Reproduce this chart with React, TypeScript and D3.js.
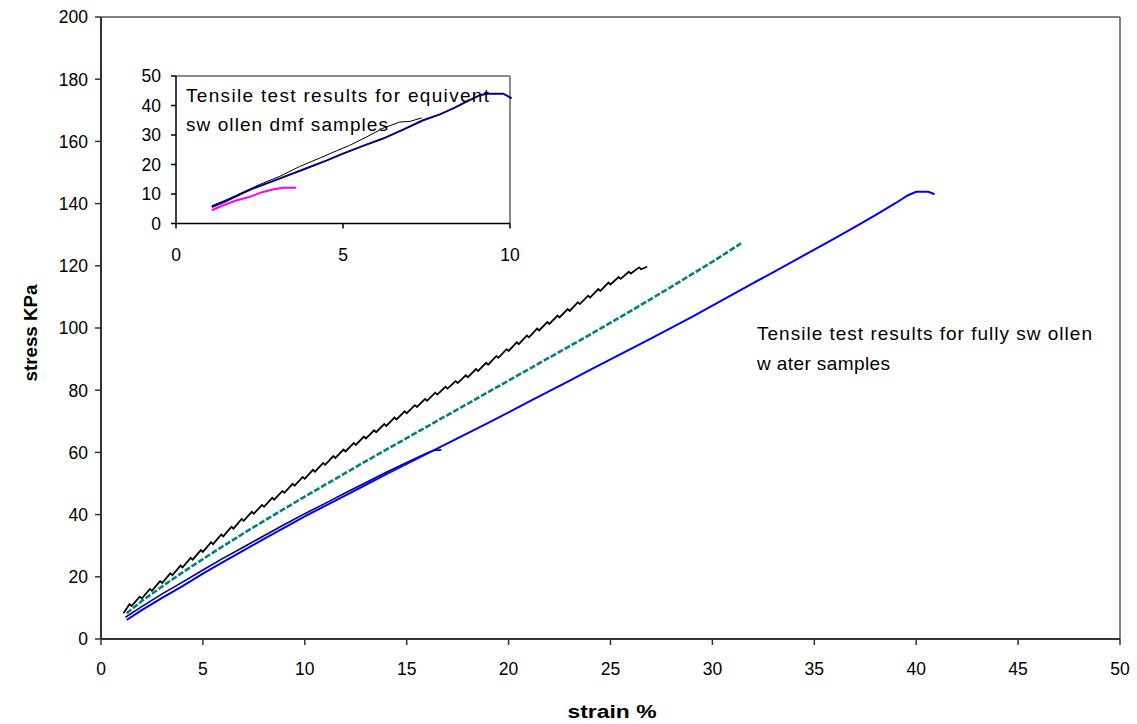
import React from 'react';
import * as d3 from 'd3';

// main chart: tensile tests, fully swollen water samples (strain %, stress KPa)
const blackMain: [number, number][] = [
  [1.1, 8.3], [1.4, 11.2], [1.5, 10.6], [1.9, 13.6], [2, 13], [2.4, 16.1], [2.5, 15.5], [2.9, 18.6], [3, 18],
  [3.4, 21.1], [3.5, 20.5], [3.9, 23.6], [4, 23], [4.4, 26.1], [4.5, 25.5], [4.9, 28.6], [5, 28], [5.4, 31.1],
  [5.5, 30.5], [5.9, 33.6], [6, 33], [6.4, 36.1], [6.5, 35.5], [6.9, 38.6], [7, 38], [7.4, 40.9], [7.5, 40.3],
  [7.9, 43.1], [8, 42.5], [8.4, 45.4], [8.5, 44.8], [8.9, 47.6], [9, 47], [9.4, 49.9], [9.5, 49.3], [9.9, 52.1],
  [10, 51.5], [10.4, 54.4], [10.5, 53.8], [10.9, 56.6], [11, 56], [11.4, 58.8], [11.5, 58.2], [11.9, 60.9],
  [12, 60.3], [12.4, 63], [12.5, 62.4], [12.9, 65.1], [13, 64.5], [13.4, 67.1], [13.5, 66.5], [13.9, 69.1],
  [14, 68.5], [14.4, 71.2], [14.5, 70.6], [14.9, 73.2], [15, 72.6], [15.4, 75.2], [15.5, 74.6], [15.9, 77.2],
  [16, 76.6], [16.4, 79.2], [16.5, 78.6], [16.9, 81.1], [17, 80.5], [17.4, 82.9], [17.5, 82.3], [17.9, 84.8],
  [18, 84.2], [18.4, 86.8], [18.5, 86.2], [18.9, 88.8], [19, 88.2], [19.4, 91], [19.5, 90.4], [19.9, 93.2],
  [20, 92.6], [20.4, 95.4], [20.5, 94.8], [20.9, 97.6], [21, 97], [21.4, 99.8], [21.5, 99.2], [21.9, 101.9],
  [22, 101.3], [22.4, 104], [22.5, 103.4], [22.9, 106.1], [23, 105.5], [23.4, 108.3], [23.5, 107.7],
  [23.9, 110.4], [24, 109.8], [24.4, 112.5], [24.5, 111.9], [24.9, 114.6], [25, 114], [25.4, 116.4], [25.5, 115.8],
  [25.9, 118.1], [26, 117.5], [26.4, 119.5], [26.5, 118.9], [26.8, 119.7],
];

const tealMain: [number, number][] = [
  [1.26, 8.3], [2, 12.2], [3, 16.9], [4, 21.4], [5, 25.7], [6, 29.9], [7, 34], [8, 38], [9, 41.9], [10, 45.8],
  [11, 49.6], [12, 53.4], [13, 57.2], [14, 60.9], [15, 64.6], [16, 68.3], [17, 72], [18, 75.7], [19, 79.4],
  [20, 83.1], [21, 86.8], [22, 90.5], [23, 94.2], [24, 97.9], [25, 101.7], [26, 105.5], [27, 109.4],
  [28, 113.3], [29, 117.3], [30, 121.3], [31, 125.5], [31.4, 127.2],
];

const blueMain: [number, number][] = [
  [1.26, 6.1], [2, 9.3], [3, 13.2], [4, 17], [5, 21], [6, 24.8], [7, 28.5], [8, 32.2], [9, 35.8], [10, 39.4],
  [11, 42.8], [12, 46.2], [13, 49.6], [14, 53], [15, 56.3], [16, 59.6], [17, 62.9], [18, 66.2], [19, 69.5],
  [20, 72.9], [21, 76.3], [22, 79.7], [23, 83.1], [24, 86.5], [25, 89.9], [26, 93.3], [27, 96.7], [28, 100.1],
  [29, 103.6], [30, 107.2], [31, 110.8], [32, 114.4], [33, 118], [34, 121.6], [35, 125.2], [36, 128.8],
  [37, 132.5], [38, 136.3], [39, 140.2], [39.6, 142.7], [40, 143.8], [40.6, 143.8], [40.9, 143],
];

const navyMain: [number, number][] = [
  [1.2, 7], [2, 10.4], [3, 14.5], [4, 18.3], [5, 22.2], [6, 26], [7, 29.6], [8, 33.2], [9, 36.8], [10, 40.3],
  [11, 43.6], [12, 47], [13, 50.3], [14, 53.6], [15, 56.8], [16, 59.8], [16.3, 60.6], [16.7, 60.8],
];

// inset: equivalent swollen dmf samples
const navyInset: [number, number][] = [
  [1.07, 5.6], [1.5, 7.6], [2, 10.3], [2.31, 11.9], [3, 14.8], [3.81, 18.3], [4.5, 21.3], [5, 23.7],
  [5.6, 26.3], [6.2, 28.8], [6.8, 31.8], [7.4, 35], [7.9, 37], [8.3, 39], [8.7, 41.3], [9.1, 43.5],
  [9.3, 44], [9.8, 44], [10.05, 42.4],
];

const blackInset: [number, number][] = [
  [1.07, 6], [1.5, 8], [2, 10.6], [2.5, 13.2], [3.11, 16], [3.7, 19.3], [4.31, 22.2], [4.8, 24.6],
  [5.2, 26.5], [5.7, 29.3], [6.2, 32.3], [6.7, 34.4], [7, 34.6], [7.36, 35.8],
];

const magentaInset: [number, number][] = [
  [1.07, 4.5], [1.4, 6.1], [1.82, 7.9], [2.2, 9], [2.6, 10.7], [2.9, 11.5], [3.2, 12.1], [3.6, 12.1],
];

const mainXTicks = [0, 5, 10, 15, 20, 25, 30, 35, 40, 45, 50];
const mainYTicks = [0, 20, 40, 60, 80, 100, 120, 140, 160, 180, 200];
const insetXTicks = [0, 5, 10];
const insetYTicks = [0, 10, 20, 30, 40, 50];

const font = "Arial, 'Liberation Sans', sans-serif";

const mainX = d3.scaleLinear().domain([0, 50]).range([101, 1120]);
const mainY = d3.scaleLinear().domain([0, 200]).range([639, 17]);
const insetX = d3.scaleLinear().domain([0, 10]).range([176, 510]);
const insetY = d3.scaleLinear().domain([0, 50]).range([223.5, 76]);

const mainLine = d3.line<[number, number]>().x(d => mainX(d[0])).y(d => mainY(d[1]));
const insetLine = d3.line<[number, number]>().x(d => insetX(d[0])).y(d => insetY(d[1]));

export default function App() {
  return (
    <svg width={1137} height={724} style={{position: 'absolute', left: 0, top: 0, background: '#fff'}}
      fontFamily={font}>
      <rect x={0} y={0} width={1137} height={724} fill='#fff' />

      {/* main frame */}
      <line x1={mainX(0)} x2={mainX(50)} y1={mainY(200)} y2={mainY(200)} stroke='#808080' strokeWidth={2} />
      <line x1={mainX(50)} x2={mainX(50)} y1={mainY(200)} y2={mainY(0)} stroke='#808080' strokeWidth={2} />

      {/* main y axis */}
      <line x1={mainX(0)} x2={mainX(0)} y1={mainY(200)} y2={mainY(0)} stroke='#333' strokeWidth={2} />
      {mainYTicks.map(t =>
        <g key={'y' + t}>
          <line x1={mainX(0) - 6} x2={mainX(0)} y1={mainY(t)} y2={mainY(t)} stroke='#333' strokeWidth={1.5} />
          <text x={88} y={mainY(t)} dy='0.36em' textAnchor='end' fontSize={17.5} fill='#000'>{t}</text>
        </g>
      )}
      {/* main x axis */}
      <line x1={mainX(0)} x2={mainX(50)} y1={mainY(0)} y2={mainY(0)} stroke='#333' strokeWidth={2} />
      {mainXTicks.map(t =>
        <g key={'x' + t}>
          <line x1={mainX(t)} x2={mainX(t)} y1={mainY(0)} y2={mainY(0) + 6} stroke='#333' strokeWidth={1.5} />
          <text x={mainX(t)} y={675} textAnchor='middle' fontSize={17.5} fill='#000'>{t}</text>
        </g>
      )}

      <text x={612} y={718} textAnchor='middle' fontSize={18} fontWeight='bold' textLength={89}
        lengthAdjust='spacingAndGlyphs'>strain %</text>
      <text transform='translate(37,333) rotate(-90)' textAnchor='middle' fontSize={18} fontWeight='bold'
        textLength={97} lengthAdjust='spacingAndGlyphs'>stress KPa</text>

      {/* main series */}
      <path d={mainLine(navyMain) || ''} fill='none' stroke='#000080' strokeWidth={1.6} />
      <path d={mainLine(blueMain) || ''} fill='none' stroke='#0000ff' strokeWidth={2} />
      <path d={mainLine(tealMain) || ''} fill='none' stroke='#008080' strokeWidth={2.6} strokeDasharray='6 2' />
      <path d={mainLine(blackMain) || ''} fill='none' stroke='#000' strokeWidth={1.8} />

      <text x={757} y={340} fontSize={19} textLength={335} lengthAdjust='spacing'>Tensile test results for fully sw ollen</text>
      <text x={757} y={370} fontSize={19} textLength={133} lengthAdjust='spacing'>w ater samples</text>

      {/* inset */}
      <rect x={insetX(0)} y={insetY(50)} width={insetX(10) - insetX(0)} height={insetY(0) - insetY(50)} fill='#fff' />
      <line x1={insetX(0)} x2={insetX(10)} y1={insetY(50)} y2={insetY(50)} stroke='#666' strokeWidth={1.5} />
      <line x1={insetX(10)} x2={insetX(10)} y1={insetY(50)} y2={insetY(0)} stroke='#666' strokeWidth={1.5} />
      <line x1={insetX(0)} x2={insetX(0)} y1={insetY(50)} y2={insetY(0)} stroke='#000' strokeWidth={1.5} />
      <line x1={insetX(0)} x2={insetX(10)} y1={insetY(0)} y2={insetY(0)} stroke='#000' strokeWidth={1.5} />
      {insetYTicks.map(t =>
        <g key={'iy' + t}>
          <line x1={insetX(0) - 5} x2={insetX(0)} y1={insetY(t)} y2={insetY(t)} stroke='#000' strokeWidth={1.5} />
          <text x={161} y={insetY(t)} dy='0.36em' textAnchor='end' fontSize={17.5}>{t}</text>
        </g>
      )}
      {insetXTicks.map(t =>
        <g key={'ix' + t}>
          <line x1={insetX(t)} x2={insetX(t)} y1={insetY(0)} y2={insetY(0) + 5} stroke='#000' strokeWidth={1.5} />
          <text x={insetX(t)} y={261} textAnchor='middle' fontSize={17.5}>{t}</text>
        </g>
      )}

      <path d={insetLine(magentaInset) || ''} fill='none' stroke='#ff00ff' strokeWidth={2} />
      <path d={insetLine(blackInset) || ''} fill='none' stroke='#000' strokeWidth={1} />
      <path d={insetLine(navyInset) || ''} fill='none' stroke='#000080' strokeWidth={2} />

      <text x={186} y={102} fontSize={19} textLength={303} lengthAdjust='spacing'>Tensile test results for equivent</text>
      <text x={186} y={131} fontSize={19} textLength={202} lengthAdjust='spacing'>sw ollen dmf samples</text>
    </svg>
  );
}
